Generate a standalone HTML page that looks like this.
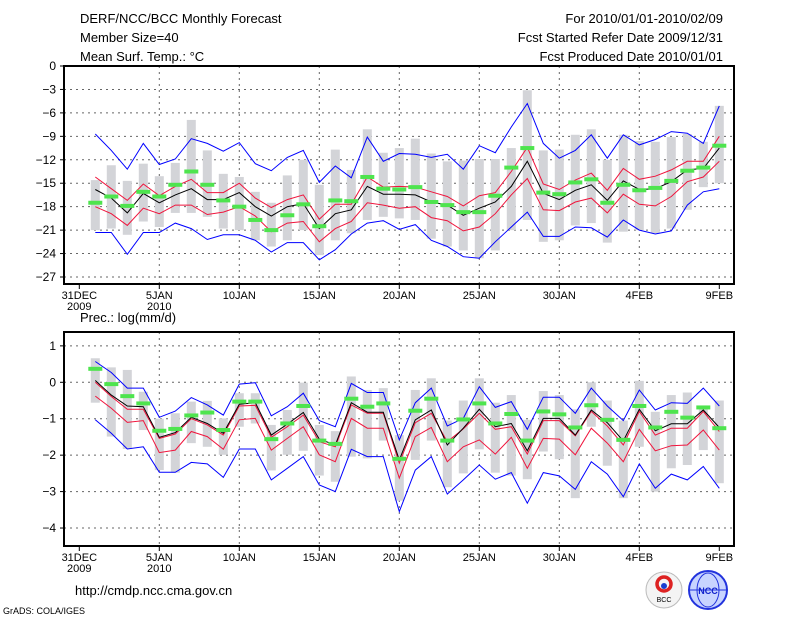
<!DOCTYPE html>
<html><head><meta charset="utf-8"><style>
body{margin:0;background:#fff;width:800px;height:618px;overflow:hidden}
svg{display:block}
text{font-family:"Liberation Sans","DejaVu Sans",sans-serif;fill:#000}
</style></head><body>
<svg id="chart" width="800" height="618" viewBox="0 0 800 618">
<text x="80" y="23" font-size="13">DERF/NCC/BCC Monthly Forecast</text>
<text x="80" y="42" font-size="13">Member Size=40</text>
<text x="80" y="61" font-size="13">Mean Surf. Temp.: °C</text>
<text x="723" y="23" font-size="13" text-anchor="end">For 2010/01/01-2010/02/09</text>
<text x="723" y="42" font-size="13" text-anchor="end">Fcst Started Refer Date 2009/12/31</text>
<text x="723" y="61" font-size="13" text-anchor="end">Fcst Produced Date 2010/01/01</text>
<text x="80" y="322" font-size="13">Prec.: log(mm/d)</text>
<text x="75" y="595" font-size="13">http://cmdp.ncc.cma.gov.cn</text>
<text x="3" y="614" font-size="9">GrADS: COLA/IGES</text>
<g><circle cx="664" cy="590" r="18" fill="#f4f4f4" stroke="#bbb"/><circle cx="664" cy="584" r="7" fill="none" stroke="#d22" stroke-width="3.5"/><circle cx="664" cy="586" r="3" fill="#1a3fd0"/><text x="664" y="602" font-size="7" text-anchor="middle">BCC</text></g>
<g><circle cx="708" cy="590" r="19" fill="#c8d4ff" stroke="#2233dd" stroke-width="2"/><ellipse cx="708" cy="590" rx="11" ry="17" fill="none" stroke="#2233dd"/><line x1="690" y1="590" x2="726" y2="590" stroke="#2233dd"/><text x="708" y="594" font-size="9" font-weight="bold" text-anchor="middle" style="fill:#1122cc">NCC</text></g>
</svg>
<script>
// ---- temperature panel data (days 1..40) ----
const tObs=[-17.5,-16.7,-17.9,-16.1,-16.7,-15.2,-13.5,-15.2,-17.2,-18.0,-19.7,-21.0,-19.1,-17.7,-20.5,-17.2,-17.3,-14.2,-15.7,-15.8,-15.5,-17.4,-17.8,-18.7,-18.7,-16.6,-13.0,-10.5,-16.2,-16.4,-14.9,-14.5,-17.5,-15.2,-15.9,-15.6,-14.7,-13.4,-13.0,-10.2];
const tMean=[-15.8,-16.9,-18.8,-16.3,-17.5,-16.5,-15.7,-17.1,-17.1,-16.2,-18.0,-19.2,-18.0,-17.6,-20.8,-18.9,-18.4,-15.4,-16.4,-16.4,-16.5,-17.4,-17.8,-19.1,-18.2,-17.4,-15.4,-12.2,-16.3,-17.1,-15.9,-15.2,-17.2,-14.7,-15.8,-15.7,-14.8,-13.3,-13.1,-10.5];
const tRedHi=[-14.2,-15.7,-17.2,-15.1,-16.6,-15.4,-14.5,-16.2,-16.2,-15.0,-16.9,-18.1,-17.1,-16.5,-19.6,-17.7,-17.7,-14.2,-15.5,-15.4,-15.5,-16.1,-16.7,-17.9,-16.6,-16.2,-13.5,-10.4,-15.1,-15.8,-14.6,-13.7,-15.9,-13.1,-14.5,-14.1,-13.3,-12.2,-12.2,-9.0];
const tRedLo=[-18.0,-18.9,-20.4,-18.2,-18.9,-17.8,-17.8,-19.0,-18.7,-18.0,-19.2,-21.2,-20.1,-19.9,-22.5,-20.8,-19.9,-17.5,-17.8,-18.2,-18.0,-19.4,-19.8,-21.1,-20.6,-18.9,-16.5,-14.4,-18.4,-18.5,-17.4,-16.9,-18.8,-16.4,-17.7,-17.9,-16.7,-14.8,-14.2,-12.2];
const tBlueHi=[-8.7,-10.8,-13.2,-9.9,-12.6,-11.9,-9.3,-9.9,-10.9,-9.8,-12.5,-13.4,-11.7,-10.8,-14.9,-12.8,-14.3,-9.1,-12.2,-11.2,-11.3,-11.7,-11.3,-13.2,-10.2,-11.1,-7.8,-4.8,-9.9,-11.8,-10.8,-8.8,-11.8,-8.8,-10.1,-9.4,-8.4,-8.6,-9.9,-5.1];
const tBlueLo=[-21.3,-21.3,-24.1,-21.3,-21.3,-20.1,-20.8,-22.2,-21.6,-21.6,-22.3,-23.8,-22.6,-22.6,-24.8,-23.5,-21.5,-20.1,-19.8,-20.9,-20.3,-22.3,-23.1,-24.4,-24.6,-22.5,-20.6,-18.7,-21.8,-21.8,-20.6,-20.7,-21.9,-19.7,-21.0,-21.5,-21.1,-17.8,-16.1,-15.7];
const tBarTop=[-14.6,-12.7,-14.7,-12.5,-14.1,-12.4,-6.9,-10.8,-13.8,-14.2,-16.1,-17.5,-14.0,-12.0,-15.2,-10.7,-13.3,-8.1,-11.1,-10.5,-9.3,-11.2,-12.2,-12.1,-11.9,-11.9,-10.5,-3.1,-10.8,-10.7,-8.8,-8.1,-12.0,-8.8,-9.6,-9.7,-9.1,-8.7,-9.7,-5.1];
const tBarBot=[-21.0,-20.8,-21.6,-19.9,-20.6,-18.8,-18.8,-19.3,-20.8,-21.0,-22.3,-23.1,-22.3,-21.0,-24.2,-22.3,-21.4,-19.7,-19.3,-19.5,-19.7,-22.1,-23.1,-23.6,-24.6,-23.6,-21.0,-19.7,-22.5,-22.3,-20.4,-20.1,-22.6,-21.2,-21.0,-21.4,-20.8,-18.4,-15.5,-15.0];
const tTicks=[0,-3,-6,-9,-12,-15,-18,-21,-24,-27];
// ---- precipitation panel data ----
const pObs=[0.37,-0.05,-0.38,-0.58,-1.33,-1.28,-0.91,-0.83,-1.31,-0.53,-0.53,-1.56,-1.13,-0.65,-1.60,-1.69,-0.45,-0.67,-0.58,-2.10,-0.78,-0.45,-1.60,-1.02,-0.58,-1.13,-0.87,-1.60,-0.80,-0.88,-1.24,-0.63,-1.03,-1.58,-0.65,-1.24,-0.81,-0.97,-0.69,-1.26];
const pMean=[0.05,-0.35,-0.65,-0.67,-1.51,-1.38,-0.96,-1.13,-1.40,-0.60,-0.56,-1.45,-1.15,-0.83,-1.56,-1.72,-0.56,-0.82,-0.82,-2.13,-1.03,-0.76,-1.72,-1.26,-0.74,-1.22,-1.13,-1.88,-0.99,-0.99,-1.45,-0.76,-1.11,-1.61,-0.74,-1.33,-1.14,-1.14,-0.76,-1.24];
const pRedHi=[0.0,-0.39,-0.74,-0.74,-1.54,-1.42,-1.0,-1.17,-1.45,-0.65,-0.63,-1.51,-1.22,-0.9,-1.63,-1.77,-0.62,-0.85,-0.85,-2.22,-1.11,-0.85,-1.63,-1.28,-0.85,-1.29,-1.22,-1.97,-1.05,-1.05,-1.47,-0.80,-1.20,-1.72,-0.80,-1.45,-1.26,-1.26,-0.80,-1.35];
const pRedLo=[-0.38,-0.71,-1.10,-1.05,-1.93,-1.86,-1.35,-1.49,-1.84,-1.03,-0.99,-1.86,-1.54,-1.22,-1.99,-2.18,-0.99,-1.26,-1.26,-2.63,-1.49,-1.24,-2.18,-1.77,-1.58,-1.97,-1.51,-2.36,-1.54,-1.56,-1.99,-1.26,-1.67,-2.18,-1.29,-1.88,-1.74,-1.72,-1.31,-1.86];
const pBlueHi=[0.57,0.27,-0.16,-0.16,-0.96,-0.79,-0.42,-0.62,-0.90,-0.05,-0.01,-0.92,-0.67,-0.30,-1.05,-1.22,-0.03,-0.28,-0.28,-1.58,-0.56,-0.16,-1.20,-0.99,-0.12,-0.69,-0.53,-1.29,-0.41,-0.41,-0.85,-0.16,-0.65,-1.05,-0.21,-0.76,-0.56,-0.58,-0.16,-0.65];
const pBlueLo=[-1.03,-1.40,-1.83,-1.77,-2.47,-2.47,-2.2,-2.24,-2.61,-1.83,-1.83,-2.68,-2.36,-2.04,-2.82,-3.0,-1.84,-2.04,-2.04,-3.55,-2.41,-2.04,-3.07,-2.68,-2.27,-2.66,-2.48,-3.32,-2.48,-2.57,-2.94,-2.18,-2.52,-3.14,-2.24,-2.91,-2.52,-2.68,-2.31,-2.91];
const pBarTop=[0.66,0.41,0.34,-0.26,-1.0,-0.85,-0.53,-0.51,-0.99,-0.30,-0.30,-1.17,-0.76,-0.01,-1.17,-1.34,0.16,-0.21,-0.16,-1.45,-0.21,0.11,-1.05,-0.50,0.11,-0.56,-0.35,-1.03,-0.24,-0.35,-0.74,0.0,-0.50,-1.05,0.04,-0.81,-0.35,-0.28,-0.67,-0.50];
const pBarBot=[-0.56,-1.49,-1.83,-1.31,-2.41,-2.48,-1.67,-1.77,-1.99,-1.22,-1.13,-2.42,-1.99,-1.88,-2.56,-2.73,-2.04,-2.09,-1.60,-3.25,-2.13,-1.60,-2.88,-2.50,-1.84,-2.48,-2.56,-2.66,-1.90,-2.11,-3.18,-1.22,-2.29,-3.18,-1.77,-3.0,-2.36,-2.27,-1.86,-2.77];
const pTicks=[1,0,-1,-2,-3,-4];
const xTickDays=[0,5,10,15,20,25,30,35,40];
const xTickLabels=["31DEC","5JAN","10JAN","15JAN","20JAN","25JAN","30JAN","4FEB","9FEB"];
const xTickSub=["2009","2010","","","","","","",""];

const NS="http://www.w3.org/2000/svg";
const svg=document.getElementById('chart');
function mk(tag,attrs,parent){const e=document.createElementNS(NS,tag);for(const k in attrs)e.setAttribute(k,attrs[k]);(parent||svg).appendChild(e);return e;}
const X0=64,X1=734;
function xScale(d){return 79.3+16*d;}

function panel(cfg){
  const g=mk('g',{});
  
  
  const y=cfg.y;
  cfg.ticks.forEach((t,i)=>{
    const yy=y(t);
    if(yy>cfg.top+1&&yy<cfg.bot-1){const l=mk('line',{x1:X0,x2:X1,y1:yy,y2:yy,stroke:'#666','stroke-dasharray':'2,4','stroke-width':1},g);
    
    }
    const tk=mk('line',{x1:X0-4,x2:X0,y1:yy,y2:yy,stroke:'#000'},g);
    
    
    const tx=mk('text',{x:X0-8,y:yy+4,'font-size':12,'text-anchor':'end'},g);
    tx.textContent=String(t).replace('-','\u2212');
    
    
  });
  xTickDays.forEach((d,i)=>{
    const xx=xScale(d);
    if(i>0&&i<xTickDays.length-1){const l=mk('line',{x1:xx,x2:xx,y1:cfg.top,y2:cfg.bot,stroke:'#666','stroke-dasharray':'2,4'},g);
    
    }
    const tk=mk('line',{x1:xx,x2:xx,y1:cfg.bot,y2:cfg.bot+5,stroke:'#000'},g);
    
    
    const tx=mk('text',{x:xx,y:cfg.bot+15,'font-size':11,'text-anchor':'middle'},g);
    tx.textContent=xTickLabels[i];
    
    
    if(xTickSub[i]){const s=mk('text',{x:xx,y:cfg.bot+26,'font-size':11,'text-anchor':'middle'},g);
    s.textContent=xTickSub[i];
    
    }
  });
  cfg.barTop.forEach((v,i)=>{
    const xx=xScale(i+1),y1=y(v),y2=y(cfg.barBot[i]);
    const r=mk('rect',{x:xx-4.5,y:y1,width:9,height:y2-y1,fill:'#d3d4d8'},g);
    
    
  });
  function line(arr,color,name,w){
    const pts=arr.map((v,i)=>xScale(i+1).toFixed(1)+','+y(v).toFixed(1)).join(' ');
    const p=mk('polyline',{points:pts,fill:'none',stroke:color,'stroke-width':w||1},g);
    
    
  }
  line(cfg.blueHi,'#0000ff','blue-upper-line');
  line(cfg.blueLo,'#0000ff','blue-lower-line');
  line(cfg.redHi,'#f0143c','red-upper-line');
  line(cfg.redLo,'#f0143c','red-lower-line');
  line(cfg.mean,'#000','ensemble-mean-line');
  cfg.obs.forEach((v,i)=>{
    const xx=xScale(i+1);
    const r=mk('rect',{x:xx-7,y:y(v)-2,width:14,height:4,fill:'#4ee44e'},g);
    
    
  });
  const f=mk('rect',{x:X0,y:cfg.top,width:X1-X0,height:cfg.bot-cfg.top,fill:'none',stroke:'#000','stroke-width':2},g);
  
  
}
panel({name:'temperature-panel',top:66,bot:284,y:v=>66-v*7.815,ticks:tTicks,barTop:tBarTop,barBot:tBarBot,
  obs:tObs,mean:tMean,redHi:tRedHi,redLo:tRedLo,blueHi:tBlueHi,blueLo:tBlueLo});
panel({name:'precipitation-panel',top:332,bot:546,y:v=>382.3-v*36.43,ticks:pTicks,barTop:pBarTop,barBot:pBarBot,
  obs:pObs,mean:pMean,redHi:pRedHi,redLo:pRedLo,blueHi:pBlueHi,blueLo:pBlueLo});
</script>
</body></html>
